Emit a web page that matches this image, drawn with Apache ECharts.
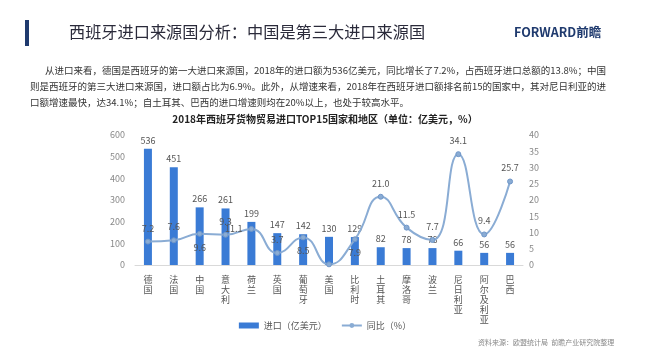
<!DOCTYPE html>
<html><head><meta charset="utf-8">
<script src="https://cdn.jsdelivr.net/npm/echarts@6/dist/echarts.min.js"></script>
<style>html,body{margin:0;padding:0;background:#fff}#c{width:650px;height:358px}</style>
</head><body><div id="c"></div>
<script>
const categories = ['德国','法国','中国','意大利','荷兰','英国','葡萄牙','美国','比利时','土耳其','摩洛哥','波兰','尼日利亚','阿尔及利亚','巴西'];
const importValues = [536,451,266,261,199,147,142,130,129,82,78,78,66,56,56];
const growthValues = [7.2,7.6,9.6,9.3,11.1,3.7,8.5,0.2,7.9,21.0,11.5,7.7,34.1,9.4,25.7];
const growthLabelPos = ['top','top','bottom','top','left','top','bottom','none','bottom','top','top','top','top','top','top'];
const leftTicks = [0,100,200,300,400,500,600];
const rightTicks = [0,5,10,15,20,25,30,35,40];

const chart = echarts.init(document.getElementById('c'));
const font = '"Noto Sans CJK SC", "Noto Sans", sans-serif';
chart.setOption({
  animation:false,
  textStyle:{fontFamily:font},
  title:{text:'2018年西班牙货物贸易进口TOP15国家和地区（单位：亿美元，%）',left:'center',top:109,
    textStyle:{fontSize:10,fontWeight:'bold',color:'#222',fontFamily:font}},
  graphic:[
    {type:'rect',shape:{x:25,y:20,width:4,height:26},style:{fill:'#1f3a6e'}},
    {type:'text',left:69,top:24,style:{text:'西班牙进口来源国分析：中国是第三大进口来源国',font:'16.2px '+font,fill:'#2a2a3a'}},
    {type:'text',left:514,top:26,style:{text:'FORWARD前瞻',font:'bold 12.5px '+font,fill:'#1f3a6e'}},
    {type:'text',left:45,top:66,style:{text:'从进口来看，德国是西班牙的第一大进口来源国，2018年的进口额为536亿美元，同比增长了7.2%，占西班牙进口总额的13.8%；中国',font:'9.5px '+font,fill:'#333'}},
    {type:'text',left:30,top:82,style:{text:'则是西班牙的第三大进口来源国，进口额占比为6.9%。此外，从增速来看，2018年在西班牙进口额排名前15的国家中，其对尼日利亚的进',font:'9.5px '+font,fill:'#333'}},
    {type:'text',left:30,top:98,style:{text:'口额增速最快，达34.1%；自土耳其、巴西的进口增速则均在20%以上，也处于较高水平。',font:'9.5px '+font,fill:'#333'}},
    {type:'text',left:478,top:339,style:{text:'资料来源：欧盟统计局  前瞻产业研究院整理',font:'7px '+font,fill:'#888'}}
  ],
  legend:{top:316,left:'center',itemGap:14,itemWidth:20,itemHeight:6,
    textStyle:{fontSize:9,color:'#555'},
    data:[{name:'进口（亿美元）',icon:'rect'},{name:'同比（%）'}]},
  grid:{left:135,right:127,top:135,bottom:93,containLabel:false},
  xAxis:{type:'category',data:categories,
    axisLine:{lineStyle:{color:'#d9d9d9'}},axisTick:{show:false},
    axisLabel:{interval:0,fontSize:9,color:'#555',lineHeight:10,margin:10,
      formatter:v=>v.split('').join('\n')}},
  yAxis:[
    {type:'value',min:0,max:600,interval:100,splitLine:{show:false},axisLine:{show:false},axisTick:{show:false},
      axisLabel:{fontSize:9,color:'#888',margin:10}},
    {type:'value',min:0,max:40,interval:5,splitLine:{show:false},axisLine:{show:false},axisTick:{show:false},
      axisLabel:{fontSize:9,color:'#888',margin:6}}
  ],
  series:[
    {name:'进口（亿美元）',type:'bar',data:importValues,barWidth:8,
      itemStyle:{color:'#3a7bd5'},
      label:{show:true,position:'top',fontSize:9,color:'#555',distance:4}},
    {name:'同比（%）',type:'line',yAxisIndex:1,smooth:0.5,symbol:'circle',symbolSize:5,
      lineStyle:{color:'#8aacd4',width:2},itemStyle:{color:'#8aacd4',borderColor:'#6f96c8'},
      data:growthValues.map((v,i)=>({value:v,label:{show:growthLabelPos[i]!=='none',position:growthLabelPos[i]==='none'?'top':growthLabelPos[i]}})),
      label:{show:true,fontSize:9,color:'#555',distance:6,formatter:p=>p.value.toFixed(1)}}
  ]
});
</script></body></html>
